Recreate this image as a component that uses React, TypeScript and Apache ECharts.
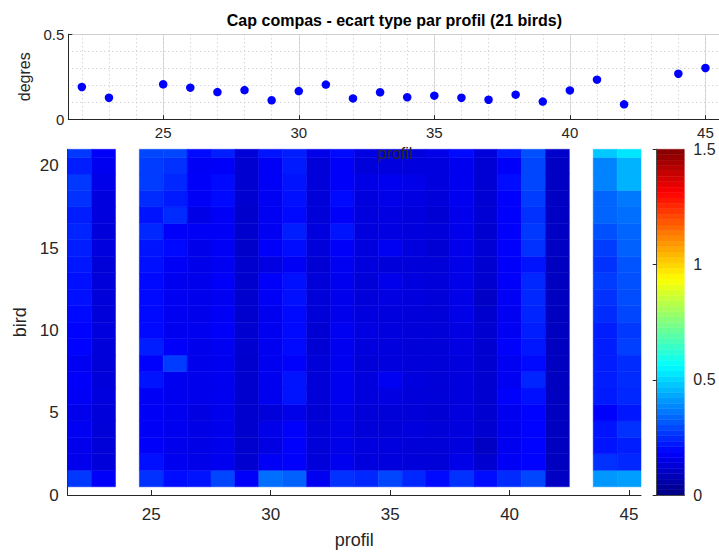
import React, { useEffect, useRef } from "react";
import * as echarts from "echarts";

// ---- data ----
const profils = [22, 23, 25, 26, 27, 28, 29, 30, 31, 32, 33, 34, 35, 36, 37, 38, 39, 40, 41, 42, 44, 45];
const meanStd = [0.19, 0.127, 0.206, 0.186, 0.16, 0.172, 0.112, 0.166, 0.204, 0.123, 0.159, 0.13, 0.139, 0.127, 0.115, 0.145, 0.104, 0.17, 0.233, 0.088, 0.268, 0.302];
const birds = [1, 2, 3, 4, 5, 6, 7, 8, 9, 10, 11, 12, 13, 14, 15, 16, 17, 18, 19, 20, 21];
// std per bird (bird 1 -> 21) for each profil, same order as `profils`
const std22 = [0.27, 0.16, 0.16, 0.17, 0.16, 0.175, 0.18, 0.17, 0.19, 0.19, 0.2, 0.21, 0.21, 0.22, 0.23, 0.24, 0.23, 0.26, 0.27, 0.23, 0.27];
const std23 = [0.18, 0.135, 0.13, 0.13, 0.135, 0.14, 0.135, 0.13, 0.135, 0.14, 0.135, 0.135, 0.135, 0.13, 0.14, 0.135, 0.14, 0.14, 0.155, 0.165, 0.18];
const std25 = [0.26, 0.21, 0.18, 0.175, 0.175, 0.175, 0.215, 0.185, 0.23, 0.2, 0.2, 0.2, 0.2, 0.21, 0.215, 0.245, 0.215, 0.25, 0.275, 0.275, 0.29];
const std26 = [0.205, 0.165, 0.16, 0.165, 0.165, 0.165, 0.165, 0.275, 0.18, 0.165, 0.17, 0.17, 0.165, 0.175, 0.2, 0.18, 0.25, 0.225, 0.245, 0.26, 0.29];
const std27 = [0.215, 0.155, 0.15, 0.15, 0.145, 0.16, 0.16, 0.16, 0.16, 0.165, 0.16, 0.16, 0.16, 0.158, 0.158, 0.175, 0.15, 0.175, 0.18, 0.175, 0.2];
const std28 = [0.29, 0.165, 0.16, 0.16, 0.16, 0.165, 0.165, 0.165, 0.17, 0.18, 0.175, 0.17, 0.18, 0.17, 0.175, 0.175, 0.175, 0.2, 0.2, 0.18, 0.23];
const std29 = [0.18, 0.12, 0.115, 0.115, 0.115, 0.115, 0.115, 0.115, 0.12, 0.12, 0.115, 0.115, 0.115, 0.115, 0.11, 0.115, 0.112, 0.12, 0.12, 0.12, 0.13];
const std30 = [0.35, 0.175, 0.145, 0.155, 0.135, 0.165, 0.165, 0.165, 0.165, 0.165, 0.165, 0.175, 0.18, 0.145, 0.18, 0.17, 0.17, 0.17, 0.175, 0.175, 0.215];
const std31 = [0.33, 0.185, 0.185, 0.185, 0.155, 0.215, 0.215, 0.185, 0.2, 0.2, 0.2, 0.21, 0.21, 0.175, 0.205, 0.23, 0.2, 0.21, 0.215, 0.225, 0.23];
const std32 = [0.165, 0.135, 0.13, 0.13, 0.125, 0.13, 0.13, 0.13, 0.125, 0.125, 0.13, 0.13, 0.13, 0.125, 0.135, 0.14, 0.13, 0.13, 0.135, 0.13, 0.155];
const std33 = [0.26, 0.165, 0.155, 0.155, 0.155, 0.165, 0.165, 0.165, 0.165, 0.17, 0.16, 0.16, 0.165, 0.17, 0.18, 0.215, 0.18, 0.2, 0.18, 0.18, 0.2];
const std34 = [0.245, 0.14, 0.14, 0.13, 0.13, 0.14, 0.14, 0.13, 0.14, 0.145, 0.14, 0.135, 0.13, 0.14, 0.14, 0.14, 0.14, 0.14, 0.15, 0.135, 0.145];
const std35 = [0.29, 0.14, 0.14, 0.13, 0.13, 0.145, 0.17, 0.14, 0.14, 0.14, 0.14, 0.145, 0.16, 0.135, 0.17, 0.145, 0.145, 0.155, 0.165, 0.14, 0.145];
const std36 = [0.245, 0.135, 0.13, 0.14, 0.13, 0.135, 0.14, 0.135, 0.13, 0.135, 0.135, 0.14, 0.14, 0.135, 0.14, 0.14, 0.14, 0.145, 0.155, 0.14, 0.14];
const std37 = [0.2, 0.13, 0.13, 0.13, 0.125, 0.13, 0.13, 0.13, 0.13, 0.13, 0.13, 0.13, 0.135, 0.13, 0.125, 0.135, 0.125, 0.135, 0.14, 0.14, 0.155];
const std38 = [0.26, 0.155, 0.14, 0.14, 0.14, 0.14, 0.14, 0.14, 0.145, 0.145, 0.155, 0.155, 0.155, 0.155, 0.16, 0.16, 0.16, 0.165, 0.165, 0.165, 0.2];
const std39 = [0.205, 0.12, 0.1, 0.12, 0.12, 0.12, 0.12, 0.12, 0.12, 0.12, 0.115, 0.105, 0.12, 0.12, 0.125, 0.12, 0.125, 0.125, 0.125, 0.125, 0.135];
const std40 = [0.25, 0.175, 0.165, 0.165, 0.165, 0.185, 0.17, 0.17, 0.185, 0.17, 0.17, 0.175, 0.18, 0.18, 0.185, 0.185, 0.185, 0.185, 0.205, 0.18, 0.225];
const std41 = [0.29, 0.19, 0.19, 0.19, 0.19, 0.21, 0.24, 0.2, 0.22, 0.23, 0.24, 0.245, 0.245, 0.215, 0.26, 0.27, 0.26, 0.275, 0.29, 0.29, 0.305];
const std42 = [0.1, 0.095, 0.095, 0.095, 0.095, 0.095, 0.095, 0.095, 0.095, 0.095, 0.095, 0.095, 0.095, 0.095, 0.1, 0.1, 0.1, 0.1, 0.1, 0.1, 0.11];
const std44 = [0.41, 0.26, 0.215, 0.215, 0.185, 0.225, 0.23, 0.23, 0.23, 0.23, 0.25, 0.26, 0.275, 0.26, 0.275, 0.305, 0.335, 0.335, 0.38, 0.38, 0.48];
const std45 = [0.42, 0.245, 0.23, 0.26, 0.22, 0.245, 0.25, 0.25, 0.28, 0.27, 0.29, 0.3, 0.305, 0.31, 0.33, 0.335, 0.35, 0.365, 0.45, 0.45, 0.525];
const stdByProfil = [std22, std23, std25, std26, std27, std28, std29, std30, std31, std32, std33, std34, std35, std36, std37, std38, std39, std40, std41, std42, std44, std45];

const TITLE = "Cap compas - ecart type par profil (21 birds)";
const COLOR_MAX = 1.5;
const N_LEVELS = 64;
const JET = ["#000080", "#0000ff", "#0080ff", "#00ffff", "#80ff80", "#ffff00", "#ff8000", "#ff0000", "#800000"];

const FONT = "'Liberation Sans', Arial, sans-serif";
const AXIS = "#262626";

export default function App() {
  const ref = useRef<HTMLDivElement>(null);
  useEffect(() => {
    const chart = echarts.init(ref.current!, null, { renderer: "svg" });

    const heatData: number[][] = [];
    profils.forEach((p, i) => stdByProfil[i].forEach((v, j) => heatData.push([p, birds[j], v])));
    const step = COLOR_MAX / N_LEVELS;
    const barData = Array.from({ length: N_LEVELS }, (_, i) => [0.5, (i + 0.5) * step, (i + 0.5) * step]);

    const g0 = { left: 68.3, top: 34.3, width: 653.7, height: 85 };
    const g1 = { left: 67.7, top: 149.3, width: 573.3, height: 346.5 };
    const g2 = { left: 656.7, top: 149.3, width: 27.6, height: 346 };

    const lbl = (size: number, margin: number, extra: any = {}) => ({
      color: AXIS, fontFamily: FONT, fontSize: size, margin, ...extra,
    });
    const line = (color = AXIS) => ({ show: true, lineStyle: { color, width: 1 } });
    const hidden = { axisLine: { show: false }, axisTick: { show: false }, axisLabel: { show: false }, splitLine: { show: false } };
    const borderLine = { show: true, lineStyle: { color: "#4a4a4a", width: 1 } };

    const clipRect = (params: any, r: any) =>
      echarts.graphic.clipRectByRect(r, {
        x: params.coordSys.x, y: params.coordSys.y,
        width: params.coordSys.width, height: params.coordSys.height,
      });

    const option: any = {
      animation: false,
      textStyle: { fontFamily: FONT },
      grid: [
        { ...g0, containLabel: false },
        { ...g1, containLabel: false },
        { ...g2, containLabel: false },
      ],
      xAxis: [
        {
          gridIndex: 0, type: "value", min: 21.5, max: 45.5, splitNumber: 5, position: "bottom",
          axisLine: line(), axisTick: { show: true, inside: true, length: 4, lineStyle: { color: AXIS } },
          axisLabel: lbl(15, 6, { showMinLabel: false, showMaxLabel: false }),
          splitLine: { show: true, lineStyle: { color: "#dcdcdc", width: 1 } },
        },
        {
          gridIndex: 0, type: "value", min: 21.5, max: 45.5, splitNumber: 24, position: "top",
          ...hidden,
          splitLine: { show: true, lineStyle: { color: "#c4c4c4", width: 1, type: [1, 3] } },
        },
        {
          gridIndex: 1, type: "value", min: 21.5, max: 45.5, splitNumber: 5, position: "bottom",
          axisLine: line(), axisTick: { show: true, inside: true, length: 5, lineStyle: { color: AXIS } },
          axisLabel: lbl(17, 11, { showMinLabel: false, showMaxLabel: false }),
          splitLine: { show: false },
          name: "profil", nameLocation: "middle", nameGap: 36,
          nameTextStyle: { color: AXIS, fontFamily: FONT, fontSize: 18 },
        },
        { gridIndex: 2, type: "value", min: 0, max: 1, position: "bottom", ...hidden, axisLine: borderLine, z: 5 },
        { gridIndex: 2, type: "value", min: 0, max: 1, position: "top", ...hidden, axisLine: borderLine, z: 5 },
      ],
      yAxis: [
        {
          gridIndex: 0, type: "value", min: 0, max: 0.5, interval: 0.5,
          axisLine: line(), axisTick: { show: true, inside: true, length: 4, lineStyle: { color: AXIS } },
          axisLabel: lbl(15, 4),
          splitLine: { show: true, lineStyle: { color: "#d0d0d0", width: 1 } },
          minorTick: { show: false, splitNumber: 5 },
          minorSplitLine: { show: true, lineStyle: { color: "#c4c4c4", width: 1, type: [1, 3] } },
          name: "degres", nameLocation: "middle", nameGap: 28, nameRotate: 90,
          nameTextStyle: { color: AXIS, fontFamily: FONT, fontSize: 16 },
        },
        {
          gridIndex: 1, type: "value", min: 0, max: 21, interval: 5,
          axisLine: line(), axisTick: { show: true, inside: true, length: 5, lineStyle: { color: AXIS } },
          axisLabel: lbl(17, 9, { showMaxLabel: false }),
          splitLine: { show: false },
          name: "bird", nameLocation: "middle", nameGap: 37, nameRotate: 90,
          nameTextStyle: { color: AXIS, fontFamily: FONT, fontSize: 18 },
        },
        {
          gridIndex: 2, type: "value", min: 0, max: COLOR_MAX, interval: 0.5, position: "right",
          axisLine: borderLine, axisTick: { show: true, inside: true, length: 4, lineStyle: { color: AXIS } },
          axisLabel: lbl(16, 9),
          splitLine: { show: false }, z: 5,
        },
        { gridIndex: 2, type: "value", min: 0, max: COLOR_MAX, position: "left", ...hidden, axisLine: borderLine, z: 5 },
      ],
      visualMap: {
        type: "continuous", show: false, min: 0, max: COLOR_MAX, dimension: 2,
        seriesIndex: [1, 2], inRange: { color: JET },
      },
      graphic: [
        {
          type: "text", x: 394.4, y: 20.5, z: 100,
          style: { text: TITLE, fill: "#000", font: `bold 16px ${FONT}`, textAlign: "center", textVerticalAlign: "middle" },
        },
        {
          type: "text", x: 395, y: 153, z: 100,
          style: { text: "profil", fill: AXIS, font: `16px ${FONT}`, textAlign: "center", textVerticalAlign: "middle" },
        },
      ],
      series: [
        {
          type: "scatter", xAxisIndex: 0, yAxisIndex: 0,
          data: profils.map((p, i) => [p, meanStd[i]]),
          symbol: "circle", symbolSize: 8.5, itemStyle: { color: "#0000ff", opacity: 1 },
        },
        {
          type: "custom", xAxisIndex: 2, yAxisIndex: 1, data: heatData,
          encode: { x: 0, y: 1 },
          renderItem: (params: any, api: any) => {
            const x = api.value(0), y = api.value(1);
            const p0 = api.coord([x - 0.5, y + 0.5]);
            const sz = api.size([1, 1]);
            const r = clipRect(params, { x: p0[0], y: p0[1], width: sz[0], height: sz[1] });
            if (!r) return null;
            const c = api.visual("color");
            return { type: "rect", shape: r, style: { fill: c, stroke: c, lineWidth: 0.5 } };
          },
        },
        {
          type: "custom", xAxisIndex: 3, yAxisIndex: 2, data: barData,
          encode: { x: 0, y: 1 },
          renderItem: (params: any, api: any) => {
            const v = api.value(1);
            const p0 = api.coord([0, v + step / 2]);
            const p1 = api.coord([1, v - step / 2]);
            const c = api.visual("color");
            return {
              type: "rect",
              shape: { x: p0[0], y: p0[1], width: p1[0] - p0[0], height: p1[1] - p0[1] },
              style: { fill: c, stroke: c, lineWidth: 0.5 },
            };
          },
        },
      ],
    };
    chart.setOption(option);
    return () => chart.dispose();
  }, []);
  return <div ref={ref} style={{ position: "absolute", left: 0, top: 0, width: 719, height: 554 }} />;
}
